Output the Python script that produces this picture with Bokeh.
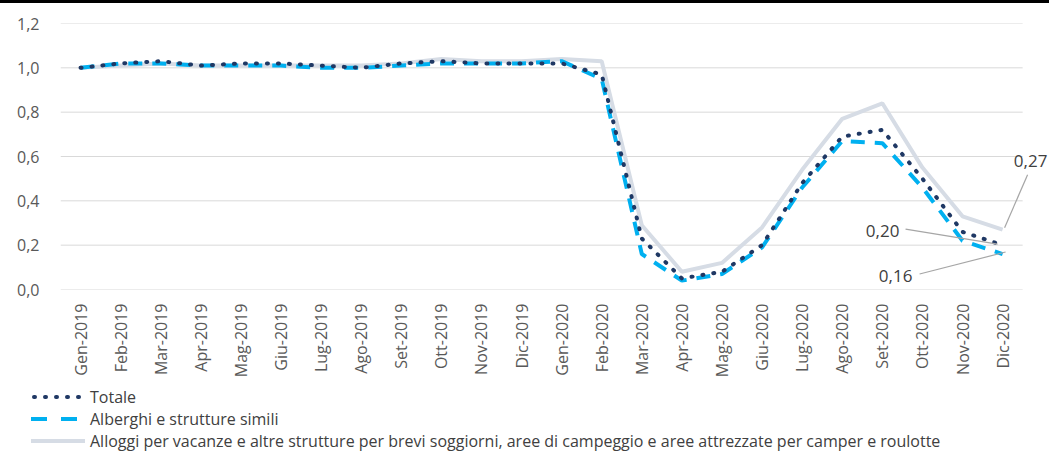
from bokeh.plotting import figure
from bokeh.layouts import column
from bokeh.models import (Label, Arrow, FixedTicker, CustomJSTickFormatter, Range1d, Div)
from bokeh.embed import file_html
from bokeh.resources import INLINE

months = ["Gen-2019", "Feb-2019", "Mar-2019", "Apr-2019", "Mag-2019", "Giu-2019",
          "Lug-2019", "Ago-2019", "Set-2019", "Ott-2019", "Nov-2019", "Dic-2019",
          "Gen-2020", "Feb-2020", "Mar-2020", "Apr-2020", "Mag-2020", "Giu-2020",
          "Lug-2020", "Ago-2020", "Set-2020", "Ott-2020", "Nov-2020", "Dic-2020"]

totale = [1.00, 1.02, 1.03, 1.01, 1.02, 1.02, 1.01, 1.00, 1.02, 1.03, 1.02, 1.02,
          1.02, 0.97, 0.23, 0.05, 0.08, 0.20, 0.48, 0.69, 0.72, 0.50, 0.26, 0.20]
alberghi = [1.00, 1.02, 1.02, 1.01, 1.01, 1.01, 1.00, 1.00, 1.01, 1.02, 1.02, 1.02,
            1.03, 0.95, 0.16, 0.04, 0.07, 0.19, 0.46, 0.67, 0.66, 0.46, 0.22, 0.16]
alloggi = [1.00, 1.01, 1.02, 1.01, 1.01, 1.01, 1.01, 1.01, 1.02, 1.04, 1.03, 1.03,
           1.04, 1.03, 0.29, 0.08, 0.12, 0.28, 0.54, 0.77, 0.84, 0.55, 0.33, 0.27]

series_names = ["Totale", "Alberghi e strutture simili",
                "Alloggi per vacanze e altre strutture per brevi soggiorni, aree di campeggio e aree attrezzate per camper e roulotte"]
y_ticks = [0.0, 0.2, 0.4, 0.6, 0.8, 1.0, 1.2]

FONT = "Open Sans"
C_TOT = "#1f3864"
C_ALB = "#00b0f0"
C_ALL = "#d6dce5"
C_GRID = "#d9d9d9"
TXT = "#404040"

STY_ALL = dict(line_color=C_ALL, line_width=4)
STY_ALB = dict(line_color=C_ALB, line_width=4, line_dash="14 10")
STY_TOT = dict(line_color=C_TOT, line_width=4, line_dash="1 10", line_cap="round")

idx = list(range(len(months)))
x_lo, x_hi = -0.5, len(months) - 0.5
x_extra = 0.67  # room on the right for the end label

p = figure(x_range=Range1d(x_lo, x_hi + x_extra), y_range=Range1d(0, 1.2),
           width=1049, height=385, output_backend="svg", toolbar_location=None,
           min_border_left=60, min_border_top=20, min_border_right=0, min_border_bottom=99)
p.outline_line_color = None
p.background_fill_color = "white"
p.border_fill_color = "white"
p.styles = {"border-top": "3px solid black"}

# horizontal gridlines limited to the category span
p.segment(x0=[x_lo] * len(y_ticks), x1=[x_hi] * len(y_ticks), y0=y_ticks, y1=y_ticks,
          line_color=C_GRID, line_width=1)

p.line(idx, alloggi, **STY_ALL)
p.line(idx, alberghi, **STY_ALB)
p.line(idx, totale, **STY_TOT)

# axes
p.yaxis.ticker = FixedTicker(ticks=y_ticks)
p.yaxis.formatter = CustomJSTickFormatter(code="return tick.toFixed(1).replace('.', ',');")
p.yaxis.axis_line_color = None
p.yaxis.major_tick_line_color = None
p.yaxis.minor_tick_line_color = None
p.yaxis.major_label_standoff = 15
p.yaxis.major_label_text_font = FONT
p.yaxis.major_label_text_font_size = "16px"
p.yaxis.major_label_text_color = "#595959"

p.xaxis.ticker = FixedTicker(ticks=idx)
p.xaxis.major_label_overrides = {i: m for i, m in zip(idx, months)}
p.xaxis.axis_line_color = None
p.xaxis.major_tick_line_color = None
p.xaxis.minor_tick_line_color = None
p.xaxis.major_label_orientation = 3.14159265 / 2
p.xaxis.major_label_standoff = 8
p.xaxis.major_label_text_font = FONT
p.xaxis.major_label_text_font_size = "16px"
p.xaxis.major_label_text_color = "#595959"

p.xgrid.grid_line_color = None
p.ygrid.grid_line_color = None

# data labels for the last month (offsets in screen px)
last = idx[-1]
px_x, px_y = 40.08, 266 / 1.2
lab_specs = [
    # value, label dx, label dy, leader start (dx, dy), leader end (dx, dy)
    (alloggi[-1], 28, 69, (2, 2), (25, 55)),
    (totale[-1], -120, 14, (-97, 16), (-5, 1)),
    (alberghi[-1], -107, -22, (-83, -20), (3, 2)),
]
for val, dx, dy, s, e in lab_specs:
    p.add_layout(Label(x=last, y=val, x_offset=dx, y_offset=dy,
                       text=f"{val:.2f}".replace(".", ","), text_font=FONT,
                       text_font_size="17px", text_color=TXT,
                       text_align="center", text_baseline="middle"))
    p.add_layout(Arrow(end=None, x_start=last + s[0] / px_x, y_start=val + s[1] / px_y,
                       x_end=last + e[0] / px_x, y_end=val + e[1] / px_y,
                       line_color="#a6a6a6", line_width=1.2))

# legend strip below the chart (keys drawn as small inline SVG strokes)
key_svgs = [
    f'<line x1="3" y1="4" x2="50" y2="4" stroke="{C_TOT}" stroke-width="4" '
    f'stroke-linecap="round" stroke-dasharray="1 10"/>',
    f'<line x1="0" y1="4" x2="54" y2="4" stroke="{C_ALB}" stroke-width="4" '
    f'stroke-dasharray="16 14"/>',
    f'<line x1="0" y1="4" x2="54" y2="4" stroke="{C_ALL}" stroke-width="4"/>',
]
rows = []
for i, (name, key) in enumerate(zip(series_names, key_svgs)):
    top = 2 + i * 22
    rows.append(
        f'<div style="position:absolute;left:31px;top:{top}px;height:20px;'
        f'display:flex;align-items:center;white-space:nowrap;">'
        f'<svg width="54" height="8" style="display:block">{key}</svg>'
        f'<span style="margin-left:5px;line-height:20px;">{name}</span></div>')
legend_html = (f'<div style="position:relative;width:1049px;height:67px;'
               f'font-family:\'{FONT}\';font-size:16px;color:{TXT};">'
               + "".join(rows) + '</div>')
legend_div = Div(text=legend_html, width=1049, height=67, margin=(0, 0, 0, 0))

open("out.html", "w").write(file_html(column(p, legend_div), INLINE))
